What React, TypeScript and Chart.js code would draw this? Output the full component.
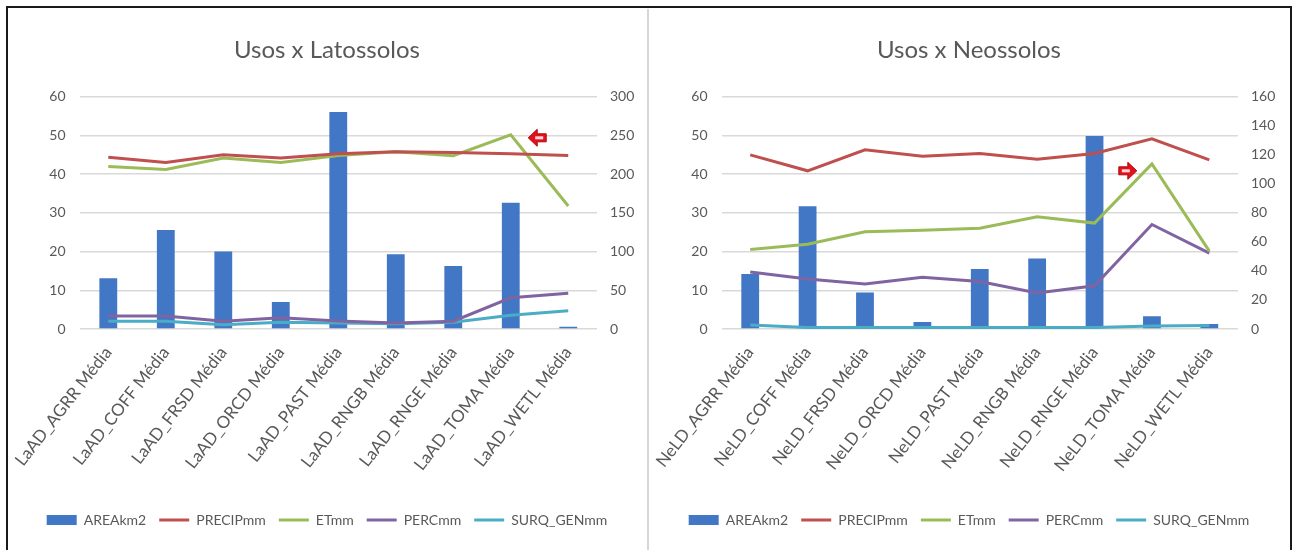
import React, { useEffect, useRef } from "react";
import { Chart, registerables } from "chart.js";

Chart.register(...registerables);

// ---------- data ----------
const LATO_CATEGORIES = [
  "LaAD_AGRR Média",
  "LaAD_COFF Média",
  "LaAD_FRSD Média",
  "LaAD_ORCD Média",
  "LaAD_PAST Média",
  "LaAD_RNGB Média",
  "LaAD_RNGE Média",
  "LaAD_TOMA Média",
  "LaAD_WETL Média",
];
const NEO_CATEGORIES = [
  "NeLD_AGRR Média",
  "NeLD_COFF Média",
  "NeLD_FRSD Média",
  "NeLD_ORCD Média",
  "NeLD_PAST Média",
  "NeLD_RNGB Média",
  "NeLD_RNGE Média",
  "NeLD_TOMA Média",
  "NeLD_WETL Média",
];
const SERIES_NAMES = ["AREAkm2", "PRECIPmm", "ETmm", "PERCmm", "SURQ_GENmm"];

const LATO_AREA = [13.1, 25.6, 20.0, 7.0, 56.1, 19.3, 16.3, 32.6, 0.6];
const LATO_PRECIP = [222, 215, 225, 221, 226.5, 229, 228, 226.5, 224];
const LATO_ET = [210, 206, 221, 215, 224, 229, 224, 251, 159];
const LATO_PERC = [16.8, 16.8, 10, 14.5, 10.4, 7.7, 10, 40.3, 46.2];
const LATO_SURQ = [10, 10, 5.4, 8.6, 7.7, 6.8, 8.6, 17.7, 23.6];

const NEO_AREA = [14.2, 31.7, 9.4, 1.8, 15.5, 18.2, 49.9, 3.3, 1.3];
const NEO_PRECIP = [120, 109, 123.5, 119, 121, 117, 121, 131, 116.5];
const NEO_ET = [54.7, 58.4, 67, 68, 69.4, 77.4, 73, 113.8, 53.7];
const NEO_PERC = [39.3, 34.4, 31, 35.7, 32.7, 24.9, 29.8, 72, 52.3];
const NEO_SURQ = [2.7, 1, 1, 1, 1, 1, 1, 2, 2.4];

const LEFT_AXIS_TICKS = [0, 10, 20, 30, 40, 50, 60];
const LATO_RIGHT_TICKS = [0, 50, 100, 150, 200, 250, 300];
const NEO_RIGHT_TICKS = [0, 20, 40, 60, 80, 100, 120, 140, 160];

// arrow annotations: category position (index), right-axis value, direction
const LATO_ARROW = [7.46, 247, -1];
const NEO_ARROW = [6.58, 109, 1];

// ---------- style ----------
const COLORS = ["#4177c4", "#c0504d", "#9bbb59", "#8064a2", "#4bacc6"];
const FONT = "Lato, 'Open Sans', sans-serif";
const TEXT = "#595959";
const GRID = "#d9d9d9";

const arrowPlugin = {
  id: "arrowMark",
  afterDatasetsDraw(chart: any, _args: any, opts: any) {
    const a = opts && opts.arrow;
    if (!a) return;
    const x = chart.scales.x.getPixelForValue(a[0]);
    const y = chart.scales.y1.getPixelForValue(a[1]);
    const d = a[2];
    const ctx = chart.ctx;
    ctx.save();
    ctx.beginPath();
    const pts = [
      [-9, -4],
      [0, -4],
      [0, -8.5],
      [9, 0],
      [0, 8.5],
      [0, 4],
      [-9, 4],
    ];
    pts.forEach((p, i) => {
      const px = x + p[0] * d;
      const py = y + p[1];
      if (i === 0) ctx.moveTo(px, py);
      else ctx.lineTo(px, py);
    });
    ctx.closePath();
    ctx.fillStyle = "#e3111b";
    ctx.fill();
    ctx.lineWidth = 1;
    ctx.strokeStyle = "#b0080f";
    ctx.stroke();
    ctx.fillStyle = "#ffd9d9";
    const x0 = d > 0 ? x - 6 : x - 2;
    ctx.fillRect(x0, y - 1.5, 8, 3);
    ctx.restore();
  },
};

type Props = {
  title: string;
  categories: string[];
  area: number[];
  precip: number[];
  et: number[];
  perc: number[];
  surq: number[];
  rightTicks: number[];
  arrow: number[];
  left: number;
  width: number;
};

function SoilChart(p: Props) {
  const ref = useRef<HTMLCanvasElement>(null);
  useEffect(() => {
    if (!ref.current) return;
    const lineDs = (i: number, data: number[]) => ({
      type: "line" as const,
      label: SERIES_NAMES[i],
      data,
      borderColor: COLORS[i],
      backgroundColor: COLORS[i],
      borderWidth: 3,
      pointRadius: 0,
      pointHoverRadius: 0,
      pointStyle: "line",
      pointBorderWidth: 3,
      pointBorderColor: COLORS[i],
      tension: 0,
      yAxisID: "y1",
      order: 0,
    });
    const tickFont = { family: FONT, size: 14 };
    const chart = new Chart(ref.current, {
      type: "bar",
      data: {
        labels: p.categories,
        datasets: [
          {
            type: "bar",
            label: SERIES_NAMES[0],
            data: p.area,
            backgroundColor: COLORS[0],
            borderWidth: 0,
            barPercentage: 0.31,
            categoryPercentage: 1,
            pointStyle: "rect",
            yAxisID: "y",
            order: 1,
          } as any,
          lineDs(1, p.precip),
          lineDs(2, p.et),
          lineDs(3, p.perc),
          lineDs(4, p.surq),
        ],
      },
      options: {
        animation: false,
        responsive: false,
        maintainAspectRatio: false,
        layout: { padding: { left: 0, right: 0, top: 0, bottom: 12 } },
        plugins: {
          title: {
            display: true,
            text: p.title,
            color: TEXT,
            font: { family: FONT, size: 24, weight: "normal" },
            padding: { top: 27, bottom: 32 },
          },
          legend: {
            position: "bottom",
            labels: {
              usePointStyle: true,
              pointStyleWidth: 30,
              boxHeight: 10,
              padding: 13,
              color: TEXT,
              font: { family: FONT, size: 14 },
              sort: (a: any, b: any) => a.datasetIndex - b.datasetIndex,
            },
          },
          tooltip: { enabled: false },
          arrowMark: { arrow: p.arrow },
        } as any,
        scales: {
          x: {
            offset: true,
            grid: { display: false },
            border: { display: false },
            ticks: {
              autoSkip: false,
              minRotation: 52,
              maxRotation: 52,
              color: TEXT,
              padding: 6,
              font: { family: FONT, size: 17 },
            },
            afterFit: (s: any) => {
              s.height = 171;
            },
          },
          y: {
            position: "left",
            min: LEFT_AXIS_TICKS[0],
            max: LEFT_AXIS_TICKS[LEFT_AXIS_TICKS.length - 1],
            ticks: {
              stepSize: LEFT_AXIS_TICKS[1] - LEFT_AXIS_TICKS[0],
              color: TEXT,
              padding: 14,
              font: tickFont,
            },
            grid: { color: GRID, lineWidth: 1.5, drawTicks: false },
            border: { display: false },
            afterFit: (s: any) => {
              s.width = 70;
            },
          },
          y1: {
            position: "right",
            min: p.rightTicks[0],
            max: p.rightTicks[p.rightTicks.length - 1],
            ticks: {
              stepSize: p.rightTicks[1] - p.rightTicks[0],
              color: TEXT,
              padding: 13,
              font: tickFont,
            },
            grid: { drawOnChartArea: false, drawTicks: false },
            border: { display: false },
            afterFit: (s: any) => {
              s.width = p.width - 588;
            },
          },
        },
      } as any,
      plugins: [arrowPlugin as any],
    });
    return () => chart.destroy();
  }, []);
  return (
    <canvas
      ref={ref}
      width={p.width}
      height={540}
      style={{ position: "absolute", left: p.left, top: 9, width: p.width, height: 540 }}
    />
  );
}

export default function App() {
  return (
    <div
      style={{
        position: "absolute",
        left: 0,
        top: 0,
        width: 1295,
        height: 550,
        overflow: "hidden",
        background: "#ffffff",
      }}
    >
      <div
        style={{
          position: "absolute",
          left: 6,
          top: 6,
          width: 1282,
          height: 560,
          borderTop: "2px solid #1a1a1a",
          borderLeft: "2px solid #1a1a1a",
          borderRight: "2px solid #1a1a1a",
        }}
      />
      <div
        style={{
          position: "absolute",
          left: 647,
          top: 9,
          width: 2,
          height: 541,
          background: "#d6d6d6",
        }}
      />
      <SoilChart
        title="Usos x Latossolos"
        categories={LATO_CATEGORIES}
        area={LATO_AREA}
        precip={LATO_PRECIP}
        et={LATO_ET}
        perc={LATO_PERC}
        surq={LATO_SURQ}
        rightTicks={LATO_RIGHT_TICKS}
        arrow={LATO_ARROW}
        left={9}
        width={636}
      />
      <SoilChart
        title="Usos x Neossolos"
        categories={NEO_CATEGORIES}
        area={NEO_AREA}
        precip={NEO_PRECIP}
        et={NEO_ET}
        perc={NEO_PERC}
        surq={NEO_SURQ}
        rightTicks={NEO_RIGHT_TICKS}
        arrow={NEO_ARROW}
        left={650}
        width={638}
      />
    </div>
  );
}
